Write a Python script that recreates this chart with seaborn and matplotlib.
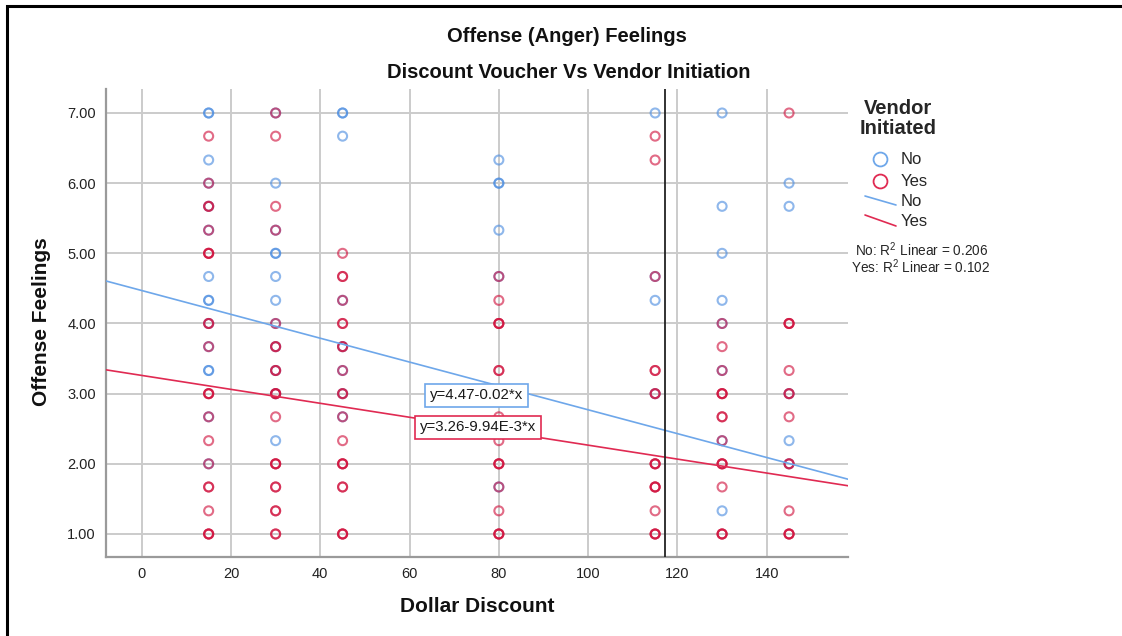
import numpy as np
import pandas as pd
import matplotlib
matplotlib.use("Agg")
import matplotlib.pyplot as plt
from matplotlib.lines import Line2D
import seaborn as sns

# ---- data -------------------------------------------------------------
# Responses not initiated by the vendor ("No"): x, y, number of respondents
no_x = [15, 15, 15, 15, 15, 15, 15, 15, 15, 15, 15, 15,
        30, 30, 30, 30, 30, 30, 30, 30, 30, 30, 30,
        45, 45, 45, 45, 45, 45, 45,
        80, 80, 80, 80, 80,
        115, 115, 115, 115,
        130, 130, 130, 130, 130, 130, 130, 130,
        145, 145, 145, 145, 145]
no_y = [7.00, 6.33, 6.00, 5.67, 5.33, 4.67, 4.33, 4.00, 3.67, 3.33, 2.67, 2.00,
        7.00, 6.00, 5.33, 5.00, 4.67, 4.33, 4.00, 3.67, 3.33, 3.00, 2.33,
        7.00, 6.67, 4.33, 3.67, 3.33, 3.00, 2.67,
        6.33, 6.00, 5.33, 4.67, 1.67,
        7.00, 4.67, 4.33, 3.00,
        7.00, 5.67, 5.00, 4.33, 4.00, 3.33, 2.33, 1.33,
        6.00, 5.67, 3.00, 2.33, 2.00]
no_n = [2, 1, 1, 1, 1, 1, 2, 1, 1, 2, 1, 1,
        1, 1, 1, 2, 1, 1, 1, 1, 1, 1, 1,
        2, 1, 1, 1, 1, 1, 1,
        1, 2, 1, 1, 1,
        1, 1, 1, 1,
        1, 1, 1, 1, 1, 1, 1, 1,
        1, 1, 1, 1, 1]

# Responses initiated by the vendor ("Yes")
yes_x = [15, 15, 15, 15, 15, 15, 15, 15, 15, 15, 15, 15, 15, 15,
         30, 30, 30, 30, 30, 30, 30, 30, 30, 30, 30, 30, 30,
         45, 45, 45, 45, 45, 45, 45, 45, 45, 45, 45, 45,
         80, 80, 80, 80, 80, 80, 80, 80, 80, 80, 80,
         115, 115, 115, 115, 115, 115, 115, 115, 115,
         130, 130, 130, 130, 130, 130, 130, 130, 130, 130,
         145, 145, 145, 145, 145, 145, 145, 145]
yes_y = [6.67, 6.00, 5.67, 5.33, 5.00, 4.00, 3.67, 3.00, 2.67, 2.33, 2.00, 1.67, 1.33, 1.00,
         7.00, 6.67, 5.67, 5.33, 4.00, 3.67, 3.33, 3.00, 2.67, 2.00, 1.67, 1.33, 1.00,
         5.00, 4.67, 4.33, 4.00, 3.67, 3.33, 3.00, 2.67, 2.33, 2.00, 1.67, 1.00,
         4.67, 4.33, 4.00, 3.33, 3.00, 2.67, 2.33, 2.00, 1.67, 1.33, 1.00,
         6.67, 6.33, 4.67, 3.33, 3.00, 2.00, 1.67, 1.33, 1.00,
         4.00, 3.67, 3.33, 3.00, 2.67, 2.33, 2.00, 1.67, 1.00, 1.00,
         7.00, 4.00, 3.33, 3.00, 2.67, 2.00, 1.33, 1.00]
yes_n = [1, 1, 2, 1, 3, 2, 1, 3, 1, 1, 1, 2, 1, 3,
         1, 1, 1, 1, 1, 2, 2, 3, 1, 3, 2, 2, 2,
         1, 2, 1, 2, 2, 1, 2, 1, 1, 3, 2, 3,
         1, 1, 3, 2, 2, 1, 1, 3, 1, 1, 3,
         1, 1, 1, 2, 2, 3, 3, 1, 3,
         1, 1, 1, 3, 2, 1, 3, 1, 2, 1,
         1, 3, 1, 2, 1, 2, 1, 3]

# Linear fits per group (intercept, slope, R^2)
groups = ["No", "Yes"]
fit_intercept = [4.47, 3.26]
fit_slope = [-0.0170, -0.00994]
fit_r2 = [0.206, 0.102]

x_ticks = [0, 20, 40, 60, 80, 100, 120, 140]
y_ticks = [1, 2, 3, 4, 5, 6, 7]
x_ref = 117.2

# ---- styling ----------------------------------------------------------
W, H = 1122, 636
BLUE = "#4A8CE0"
RED = "#D0103C"
BLUE_LINE = "#6EA7EA"
RED_LINE = "#E02A52"
FONT = "Liberation Sans"

sns.set_theme(style="white")
plt.rcParams["font.family"] = [FONT, "DejaVu Sans"]
plt.rcParams["mathtext.fontset"] = "custom"
plt.rcParams["mathtext.rm"] = FONT
plt.rcParams["mathtext.it"] = FONT


def fig_xy(px, py):
    return px / W, 1 - py / H


def expand(xs, ys, ns, label):
    rows = []
    for x, y, n in zip(xs, ys, ns):
        rows += [(x, y, label)] * n
    return pd.DataFrame(rows, columns=["Dollar Discount", "Offense Feelings", "Vendor Initiated"])


df_no = expand(no_x, no_y, no_n, "No")
df_yes = expand(yes_x, yes_y, yes_n, "Yes")

fig = plt.figure(figsize=(W / 100, H / 100), dpi=100)
ax = fig.add_axes([105.7 / W, 1 - 557 / H, (848 - 105.7) / W, (557 - 89) / H])

xlim = (-8.06, 158.2)
ylim = (0.672, 7.342)

# grid
for xt in x_ticks:
    ax.axvline(xt, color="#CBCBCB", lw=1.4, zorder=0)
for yt in y_ticks:
    ax.axhline(yt, color="#CBCBCB", lw=1.4, zorder=0)

# scatter
for d, col in [(df_no, BLUE), (df_yes, RED)]:
    sns.scatterplot(data=d, x="Dollar Discount", y="Offense Feelings", ax=ax,
                    marker="o", s=42, facecolors="none", edgecolor=col,
                    linewidth=1.5, alpha=0.62, legend=False, zorder=3)

# fit lines
xs = np.linspace(xlim[0], xlim[1], 50)
for b0, b1, col in zip(fit_intercept, fit_slope, [BLUE_LINE, RED_LINE]):
    sns.lineplot(x=xs, y=b0 + b1 * xs, ax=ax, color=col, lw=1.2, zorder=4)

ax.axvline(x_ref, color="#222222", lw=1.3, zorder=5)


def eq_text(b0, b1):
    s = abs(b1)
    if s < 0.01:
        m, e = f"{s:.2E}".split("E")
        slope = f"{m}E{int(e)}"
    else:
        slope = f"{s:.2f}"
    sign = "-" if b1 < 0 else "+"
    return f"y={b0:.2f}{sign}{slope}*x"


eq_pos = [(476.5, 395.5), (478, 427)]
for b0, b1, col, (px, py) in zip(fit_intercept, fit_slope, [BLUE_LINE, RED_LINE], eq_pos):
    fx, fy = fig_xy(px, py)
    fig.text(fx, fy, eq_text(b0, b1), ha="center", va="center", fontsize=10.8,
             color="#1a1a1a", zorder=10,
             bbox=dict(boxstyle="square,pad=0.3", fc="white", ec=col, lw=1.2))

ax.set_xlim(*xlim)
ax.set_ylim(*ylim)
ax.set_xticks(x_ticks)
ax.set_yticks(y_ticks)
ax.set_yticklabels([f"{v:.2f}" for v in y_ticks])
ax.tick_params(length=0, labelsize=10.5, colors="#222222", pad=7)
ax.set_xlabel("")
ax.set_ylabel("")
for side in ["top", "right"]:
    ax.spines[side].set_visible(False)
for side in ["left", "bottom"]:
    ax.spines[side].set_color("#9A9A9A")
    ax.spines[side].set_linewidth(1.6)

# titles and axis labels
fig.text(*fig_xy(567, 36), "Offense (Anger) Feelings", ha="center", va="center",
         fontsize=14.5, fontweight="bold", color="#111111")
fig.text(*fig_xy(569, 73), "Discount Voucher Vs Vendor Initiation", ha="center", va="center",
         fontsize=14.5, fontweight="bold", color="#111111")
fig.text(*fig_xy(477, 607), "Dollar Discount", ha="center", va="center",
         fontsize=15, fontweight="bold", color="#111111")
fig.text(*fig_xy(42, 322), "Offense Feelings", ha="center", va="center", rotation=90,
         fontsize=15, fontweight="bold", color="#111111")

# legend
fig.text(*fig_xy(898, 108), "Vendor", ha="center", va="center", fontsize=14.5, fontweight="bold")
fig.text(*fig_xy(898, 129), "Initiated", ha="center", va="center", fontsize=14.5, fontweight="bold")
for py, col, lab in [(159, BLUE_LINE, groups[0]), (181, RED_LINE, groups[1])]:
    fig.add_artist(Line2D([880 / W], [1 - py / H], marker="o", ms=10, mfc="none",
                          mec=col, mew=1.3, ls="none", transform=fig.transFigure))
    fig.text(*fig_xy(901, py), lab, ha="left", va="center", fontsize=12)
for (y0, y1, ty), col, lab in [((196, 205, 201), BLUE_LINE, groups[0]),
                               ((215, 226, 222), RED_LINE, groups[1])]:
    fig.add_artist(Line2D([865 / W, 896 / W], [1 - y0 / H, 1 - y1 / H], color=col, lw=1.2,
                          transform=fig.transFigure))
    fig.text(*fig_xy(901, ty), lab, ha="left", va="center", fontsize=12)
fig.text(*fig_xy(922, 250), f"{groups[0]}: R$^2$ Linear = {fit_r2[0]:.3f}", ha="center",
         va="center", fontsize=9.8)
fig.text(*fig_xy(921, 267), f"{groups[1]}: R$^2$ Linear = {fit_r2[1]:.3f}", ha="center",
         va="center", fontsize=9.8)

# outer frame
fig.add_artist(Line2D([7 / W, 7 / W, 1.0], [0.0, 1 - 6 / H, 1 - 6 / H], color="black",
                      lw=2.2, transform=fig.transFigure, solid_joinstyle="miter"))

fig.savefig("out.png", dpi=100, facecolor="white")
